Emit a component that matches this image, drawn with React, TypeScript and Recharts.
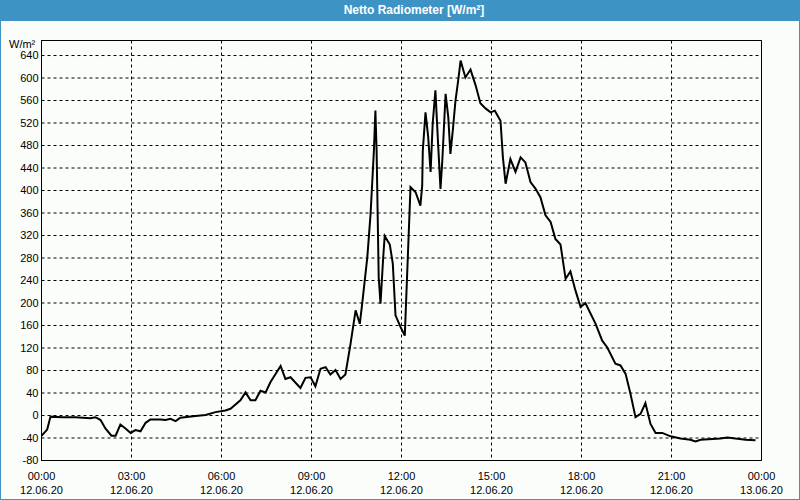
import {
  LineChart,
  Line,
  XAxis,
  YAxis,
  CartesianGrid,
  ReferenceArea,
} from "recharts";

// hours since 12.06.20 00:00
const hours = [
  0, 0.19, 0.3, 0.7, 1.13, 1.63, 1.8, 1.97, 2.13, 2.33, 2.47, 2.63, 2.8, 2.97,
  3.13, 3.3, 3.47, 3.63, 3.97, 4.13, 4.3, 4.47, 4.63, 5.13, 5.47, 5.8, 6.13,
  6.3, 6.63, 6.8, 6.97, 7.13, 7.3, 7.47, 7.63, 7.97, 8.13, 8.3, 8.63, 8.8,
  8.97, 9.13, 9.3, 9.47, 9.63, 9.8, 9.97, 10.13, 10.3, 10.47, 10.61, 10.69,
  10.86, 10.97, 11.08, 11.13, 11.17, 11.24, 11.3, 11.39, 11.44, 11.61, 11.71,
  11.8, 11.97, 12.11, 12.3, 12.47, 12.63, 12.69, 12.71, 12.8, 12.89, 12.97,
  13.04, 13.13, 13.22, 13.3, 13.36, 13.47, 13.56, 13.63, 13.71, 13.8, 13.89,
  13.97, 14.13, 14.3, 14.47, 14.63, 14.8, 14.97, 15.11, 15.3, 15.38, 15.47,
  15.63, 15.8, 15.97, 16.13, 16.3, 16.47, 16.63, 16.8, 16.97, 17.13, 17.3,
  17.47, 17.63, 17.8, 17.97, 18.13, 18.47, 18.69, 18.86, 19.13, 19.3, 19.47,
  19.63, 19.8, 19.97, 20.13, 20.3, 20.47, 20.69, 20.97, 21.3, 21.63, 21.8,
  21.97, 22.63, 22.86, 23.13, 23.47, 23.8,
];

const radiation = [
  -36, -25, -2, -3, -3, -5, -3, -8, -23, -36, -36, -16, -23, -31,
  -26, -28, -13, -7, -7, -8, -6, -10, -4, -1, 1, 6, 9,
  12, 27, 41, 27, 27, 44, 41, 59, 88, 65, 68, 49, 67,
  68, 52, 83, 86, 73, 81, 65, 73, 127, 187, 163, 199,
  281, 359, 471, 542, 471, 246, 199, 281, 319, 304, 270,
  178, 157, 142, 406, 397, 373, 409, 471, 539, 495, 433,
  519, 578, 483, 403, 453, 572, 530, 465, 507, 560, 596,
  631, 601, 615, 587, 555, 546, 539, 542, 524, 459, 412,
  456, 433, 459, 450, 415, 403, 388, 356, 344, 314, 304,
  243, 256, 222, 193, 200, 163, 133, 121, 92, 89, 74,
  39, -3, 3, 22, -15, -31, -31, -37, -41, -43, -46,
  -43, -41, -39, -41, -43, -44,
];

const xTicks = [0, 3, 6, 9, 12, 15, 18, 21, 24];
const timeLabels = ["00:00", "03:00", "06:00", "09:00", "12:00", "15:00", "18:00", "21:00", "00:00"];
const dateLabels = ["12.06.20", "12.06.20", "12.06.20", "12.06.20", "12.06.20", "12.06.20", "12.06.20", "12.06.20", "13.06.20"];
const hourTicks = [0, 1, 2, 3, 4, 5, 6, 7, 8, 9, 10, 11, 12, 13, 14, 15, 16, 17, 18, 19, 20, 21, 22, 23, 24];
const yTicks = [-80, -40, 0, 40, 80, 120, 160, 200, 240, 280, 320, 360, 400, 440, 480, 520, 560, 600, 640];

const data = hours.map((h, i) => ({ h, v: radiation[i] }));

const FONT = "'Liberation Sans', Arial, sans-serif";
const BLUE = "#3d93c4";

function TimeTick(props: any) {
  const { x, y, payload } = props;
  const i = xTicks.indexOf(payload.value);
  return (
    <g>
      <text x={x} y={y + 11} textAnchor="middle" fontSize={11} fontFamily={FONT} fill="#000">
        {timeLabels[i]}
      </text>
      <text x={x} y={y + 25} textAnchor="middle" fontSize={11} fontFamily={FONT} fill="#000">
        {dateLabels[i]}
      </text>
    </g>
  );
}

export default function App() {
  return (
    <div
      style={{
        position: "absolute",
        left: 0,
        top: 0,
        width: 800,
        height: 500,
        background: "#fbfdfb",
        boxSizing: "border-box",
        border: `1px solid ${BLUE}`,
        borderTop: "none",
        fontFamily: FONT,
      }}
    >
      <div
        style={{
          position: "absolute",
          left: -1,
          top: 0,
          width: 800,
          height: 21,
          background: BLUE,
          color: "#fff",
          fontWeight: "bold",
          fontSize: 12,
          lineHeight: "20px",
          textAlign: "center",
          paddingLeft: 28,
          boxSizing: "border-box",
        }}
      >
        Netto Radiometer [W/m²]
      </div>
      <div
        style={{
          position: "absolute",
          left: 8,
          top: 38,
          fontSize: 11,
          color: "#000",
        }}
      >
        W/m²
      </div>
      <div style={{ position: "absolute", left: -1, top: 0 }}>
        <LineChart
          width={800}
          height={500}
          data={data}
          margin={{ top: 40.5, right: 38.5, bottom: 0, left: 0.5 }}
        >
          <CartesianGrid stroke="#000" strokeDasharray="3 3" />
          <XAxis
            xAxisId="minor"
            dataKey="h"
            type="number"
            domain={[0, 24]}
            ticks={hourTicks}
            tick={false}
            tickSize={3}
            mirror
            axisLine={false}
            height={0}
            tickLine={{ stroke: "#000" }}
          />
          <XAxis
            dataKey="h"
            type="number"
            domain={[0, 24]}
            ticks={xTicks}
            tick={<TimeTick />}
            tickLine={false}
            axisLine={{ stroke: "#000" }}
            height={39.5}
            interval={0}
          />
          <YAxis
            type="number"
            domain={[-80, 666.7]}
            ticks={yTicks}
            allowDataOverflow
            width={41}
            tickLine={false}
            axisLine={{ stroke: "#000" }}
            tickSize={3}
            tickMargin={0}
            interval={0}
            tick={{ fontSize: 11, fontFamily: FONT, fill: "#000" }}
          />
          <ReferenceArea
            x1={0}
            x2={24}
            y1={-80}
            y2={666.7}
            fill="none"
            stroke="#000"
            ifOverflow="extendDomain"
          />
          <Line
            dataKey="v"
            type="linear"
            stroke="#000"
            strokeWidth={2}
            dot={false}
            isAnimationActive={false}
          />
        </LineChart>
      </div>
    </div>
  );
}
